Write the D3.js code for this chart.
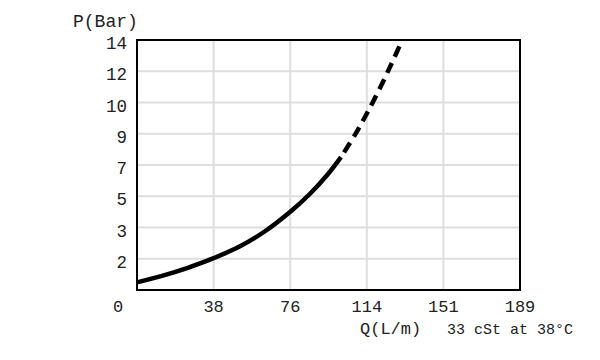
<!DOCTYPE html>
<html>
<head>
<meta charset="utf-8">
<script src="https://cdn.jsdelivr.net/npm/d3@7"></script>
<style>
  body { margin: 0; background: #fff; }
  text { font-family: "Liberation Mono", "Courier New", monospace; fill: #222; }
</style>
</head>
<body>
<script>
// flow in L/m, pressure in bar
var flow     = [0, 12.35, 24.71, 37.55, 50.9, 63.25, 75.6, 85.5, 94.4, 100.8];
var pressure = [0.42, 0.78, 1.21, 1.74, 2.41, 3.24, 4.30, 5.31, 6.40, 7.33];
var flowDash     = [100.8, 107.7, 113.65, 120.1, 126.0, 130.9];
var pressureDash = [7.33, 8.56, 9.75, 11.15, 12.54, 13.75];

var xTicks = [0, 37.85, 75.7, 113.55, 151.4, 189.25];
var xLabels = ["0", "38", "76", "114", "151", "189"];
var yTicks = [1.72, 3.45, 5.17, 6.89, 8.62, 10.34, 12.07, 13.79];
var yLabels = ["2", "3", "5", "7", "9", "10", "12", "14"];

var margin = {top: 40, right: 80, bottom: 70, left: 137};
var width = 383;
var height = 250;

var svg = d3.select("body")
    .append("svg")
        .attr("width", 600)
        .attr("height", 360);

var g = svg.append("g")
    .attr("transform", "translate(" + margin.left + ", " + margin.top + ")");

var x = d3.scaleLinear().domain([0, 189.25]).range([0, width]);
var y = d3.scaleLinear().domain([0, 13.79]).range([height, 0]);

// grid
g.selectAll(".vgrid").data(xTicks.slice(1, -1)).enter().append("line")
    .attr("class", "vgrid")
    .attr("x1", (d) => x(d)).attr("x2", (d) => x(d))
    .attr("y1", 0).attr("y2", height)
    .attr("stroke", "#dedede").attr("stroke-width", 2);

g.selectAll(".hgrid").data(yTicks.slice(0, -1)).enter().append("line")
    .attr("class", "hgrid")
    .attr("x1", 0).attr("x2", width)
    .attr("y1", (d) => y(d)).attr("y2", (d) => y(d))
    .attr("stroke", "#dedede").attr("stroke-width", 2);

// y labels
g.selectAll(".ylab").data(yTicks).enter().append("text")
    .attr("class", "ylab")
    .attr("x", -10)
    .attr("y", (d) => y(d) + 3)
    .attr("dy", "0.35em")
    .attr("text-anchor", "end")
    .attr("font-size", "17.5px")
    .text((d, i) => yLabels[i]);

// x labels
g.selectAll(".xlab").data(xTicks).enter().append("text")
    .attr("class", "xlab")
    .attr("x", (d, i) => i === 0 ? x(d) - 19 : x(d))
    .attr("y", height + 16)
    .attr("dy", "0.35em")
    .attr("text-anchor", "middle")
    .attr("font-size", "17px")
    .text((d, i) => xLabels[i]);

var line = d3.line()
    .x((d) => x(d[0]))
    .y((d) => y(d[1]))
    .curve(d3.curveCatmullRom);

g.append("path")
    .datum(flow.map((d, i) => [d, pressure[i]]))
    .attr("d", line)
    .attr("fill", "none")
    .attr("stroke", "#000")
    .attr("stroke-width", 4.5);

g.append("path")
    .datum(flowDash.map((d, i) => [d, pressureDash[i]]))
    .attr("d", line)
    .attr("fill", "none")
    .attr("stroke", "#000")
    .attr("stroke-width", 4.5)
    .attr("stroke-dasharray", "11,7")
    .attr("stroke-dashoffset", -6);

// frame
g.append("rect")
    .attr("x", 0).attr("y", 0)
    .attr("width", width).attr("height", height)
    .attr("fill", "none")
    .attr("stroke", "#000")
    .attr("stroke-width", 2);

// axis titles
svg.append("text")
    .attr("x", 73)
    .attr("y", 27)
    .attr("font-size", "18px")
    .text("P(Bar)");

svg.append("text")
    .attr("x", 360)
    .attr("y", 334)
    .attr("font-size", "17px")
    .text("Q(L/m)");

svg.append("text")
    .attr("x", 447)
    .attr("y", 334)
    .attr("font-size", "15px")
    .text("33 cSt at 38°C");
</script>
</body>
</html>
